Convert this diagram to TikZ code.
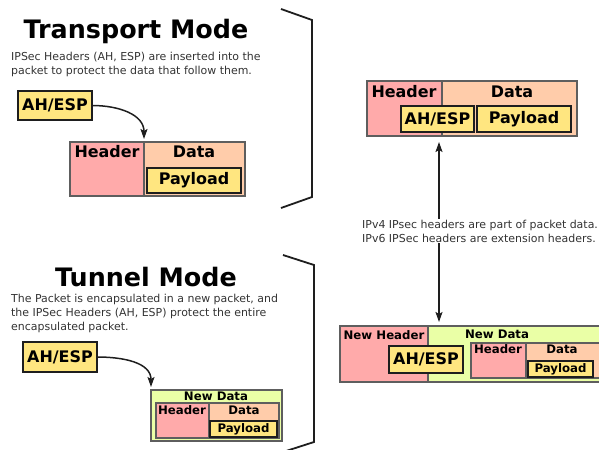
\documentclass[tikz,border=0pt]{standalone}
\usepackage{fontspec}
\setmainfont{DejaVu Sans}
\usetikzlibrary{arrows.meta}

\definecolor{hdrpink}{HTML}{FFAAAA}
\definecolor{datapeach}{HTML}{FFCCAA}
\definecolor{ahyellow}{HTML}{FFE680}
\definecolor{newgreen}{HTML}{EAFFA6}
\definecolor{desctext}{HTML}{333333}
\definecolor{fieldedge}{HTML}{5E5E5E}
\definecolor{inkdark}{HTML}{1E1E1E}

\begin{document}
\begin{tikzpicture}[x=1bp,y=-1bp,
  field/.style={draw=fieldedge, line width=1.2bp, anchor=north west,
    inner sep=0pt, outer sep=0pt},
  hdrbox/.style={field, fill=hdrpink},
  databox/.style={field, fill=datapeach},
  newbox/.style={field, fill=newgreen},
  tagbox/.style={draw=inkdark, line width=1.8bp, fill=ahyellow,
    anchor=north west, inner sep=0pt, outer sep=0pt},
  bigfont/.style={font=\bfseries\fontsize{16}{16}\selectfont},
  smallfont/.style={font=\bfseries\fontsize{11.8}{12}\selectfont},
  lbl/.style={inner sep=0pt},
  title/.style={anchor=base, inner sep=0pt,
    font=\bfseries\fontsize{25.5}{30}\selectfont},
  desc/.style={anchor=north west, inner sep=0pt, align=left, text=desctext,
    font=\fontsize{11}{14}\selectfont},
  tip/.tip={Stealth[length=10bp,width=7bp,inset=2bp]},
  flow/.style={draw=inkdark, line width=1.5bp, -tip},
  bracket/.style={draw=inkdark, line width=1.8bp, line join=miter}
]
\useasboundingbox (0,0) rectangle (599,450);

% ---------- Transport mode ----------
\node[title] (ttitle) at (136,39) {Transport Mode};
\node[desc] (tdesc) at (11,52) {IPSec Headers (AH, ESP) are inserted into the\\packet to protect the data that follow them.};

\node[tagbox, bigfont, minimum width=74bp, minimum height=29bp] (ah1) at (18,91) {AH/ESP};

\node[hdrbox, minimum width=74bp, minimum height=54bp] (hdr1) at (70,142) {};
\node[databox, minimum width=101bp, minimum height=54bp] (dat1) at (144,142) {};
\node[lbl, bigfont] (hdr1l) at (107,152) {Header};
\node[lbl, bigfont] (dat1l) at (194,152) {Data};
\node[tagbox, bigfont, minimum width=94bp, minimum height=25bp] (pay1) at (147,168) {Payload};

\draw[flow, shorten >=3bp] (ah1.east) to[out=0, in=90, looseness=1.1] (hdr1.north east);

\draw[bracket] (281,9) -- (312,20) -- (312,197) -- (281,208);

% ---------- Tunnel mode ----------
\node[title] (ntitle) at (146,287) {Tunnel Mode};
\node[desc] (ndesc) at (11,294) {The Packet is encapsulated in a new packet, and\\the IPSec Headers (AH, ESP) protect the entire\\encapsulated packet.};

\node[tagbox, bigfont, minimum width=74bp, minimum height=30bp] (ah2) at (23,342) {AH/ESP};

\node[newbox, minimum width=131bp, minimum height=51bp] (nd2) at (151,390) {};
\node[lbl, smallfont] (nd2l) at (216,396) {New Data};
\node[hdrbox, minimum width=53bp, minimum height=35bp] (hdr2) at (156,403) {};
\node[databox, minimum width=70bp, minimum height=35bp] (dat2) at (209,403) {};
\node[lbl, smallfont] (hdr2l) at (182,410) {Header};
\node[lbl, smallfont] (dat2l) at (244,410) {Data};
\node[tagbox, smallfont, minimum width=67bp, minimum height=16bp] (pay2) at (210,421) {Payload};

\draw[flow, shorten >=3bp] (ah2.east) to[out=0, in=90, looseness=1.1] (nd2.north west);

\draw[bracket] (283,255) -- (314,265) -- (314,442) -- (283,452);

% ---------- IPv4 / IPv6 placement ----------
\node[hdrbox, minimum width=75bp, minimum height=55bp] (hdr3) at (367,81) {};
\node[databox, minimum width=135bp, minimum height=55bp] (dat3) at (442,81) {};
\node[lbl, bigfont] (hdr3l) at (404,92) {Header};
\node[lbl, bigfont] (dat3l) at (512,92) {Data};
\node[tagbox, bigfont, minimum width=73bp, minimum height=26bp] (ah3) at (401,106) {AH/ESP};
\node[tagbox, bigfont, minimum width=94bp, minimum height=26bp] (pay3) at (477,106) {Payload};

\node[hdrbox, minimum width=88bp, minimum height=56bp] (nhd4) at (340,326) {};
\node[newbox, minimum width=180bp, minimum height=56bp] (nd4) at (428,326) {};
\node[lbl, smallfont] (nhd4l) at (384,335) {New Header};
\node[lbl, smallfont] (nd4l) at (497,334) {New Data};
\node[hdrbox, minimum width=55bp, minimum height=35bp] (hdr4) at (471,343) {};
\node[databox, minimum width=80bp, minimum height=35bp] (dat4) at (526,343) {};
\node[lbl, smallfont] (hdr4l) at (498,349) {Header};
\node[lbl, smallfont] (dat4l) at (562,349) {Data};
\node[tagbox, smallfont, minimum width=65bp, minimum height=16bp] (pay4) at (528,361) {Payload};
\node[tagbox, bigfont, minimum width=74bp, minimum height=27bp] (ah4) at (389,346) {AH/ESP};

\coordinate (vtop) at (hdr3.south east -| 439,0);
\coordinate (vbot) at (nd4.north west -| 439,0);
\draw[flow, tip-tip, shorten >=6bp, shorten <=4bp] (vbot) -- (vtop);
\node[desc, anchor=west, fill=white, inner sep=1bp] (note) at (361,231)
  {IPv4 IPsec headers are part of packet data.\\IPv6 IPSec headers are extension headers.};
\end{tikzpicture}
\end{document}
